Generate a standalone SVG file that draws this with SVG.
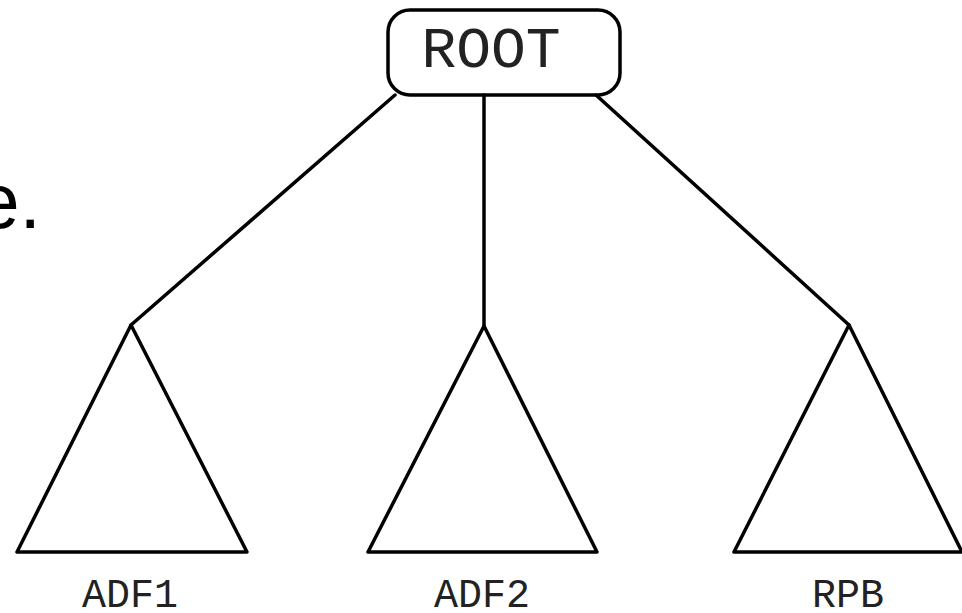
<svg xmlns="http://www.w3.org/2000/svg" width="962" height="613" viewBox="0 0 962 613">
<style>
.s{fill:none;stroke:#000;stroke-width:3.5;stroke-linejoin:round;stroke-linecap:round}
.m{font-family:"Courier New","Nimbus Mono PS","Liberation Mono",monospace;fill:#222;text-anchor:middle}
</style>
<rect width="962" height="613" fill="#fff"/>
<text x="41" y="228" font-family="Liberation Sans, Arial, sans-serif" font-size="77" text-anchor="end" fill="#000">e.</text>
<g id="connectors">
<line class="s" x1="395" y1="95" x2="131" y2="325"/>
<line class="s" x1="484" y1="95" x2="484" y2="326"/>
<line class="s" x1="596" y1="95" x2="849" y2="325"/>
</g>
<g id="root">
<rect class="s" x="388" y="10" width="232" height="85" rx="22" fill="#fff"/>
<text class="m" x="491" y="67" font-size="58">ROOT</text>
</g>
<g id="adf1">
<polygon class="s" points="131,325 17,552 247,552"/>
<text class="m" x="130" y="607" font-size="40">ADF1</text>
</g>
<g id="adf2">
<polygon class="s" points="484,326 368,552 597,552"/>
<text class="m" x="482" y="607" font-size="40">ADF2</text>
</g>
<g id="rpb">
<polygon class="s" points="849,325 734,552 962,552"/>
<text class="m" x="848" y="607" font-size="40">RPB</text>
</g>
</svg>
